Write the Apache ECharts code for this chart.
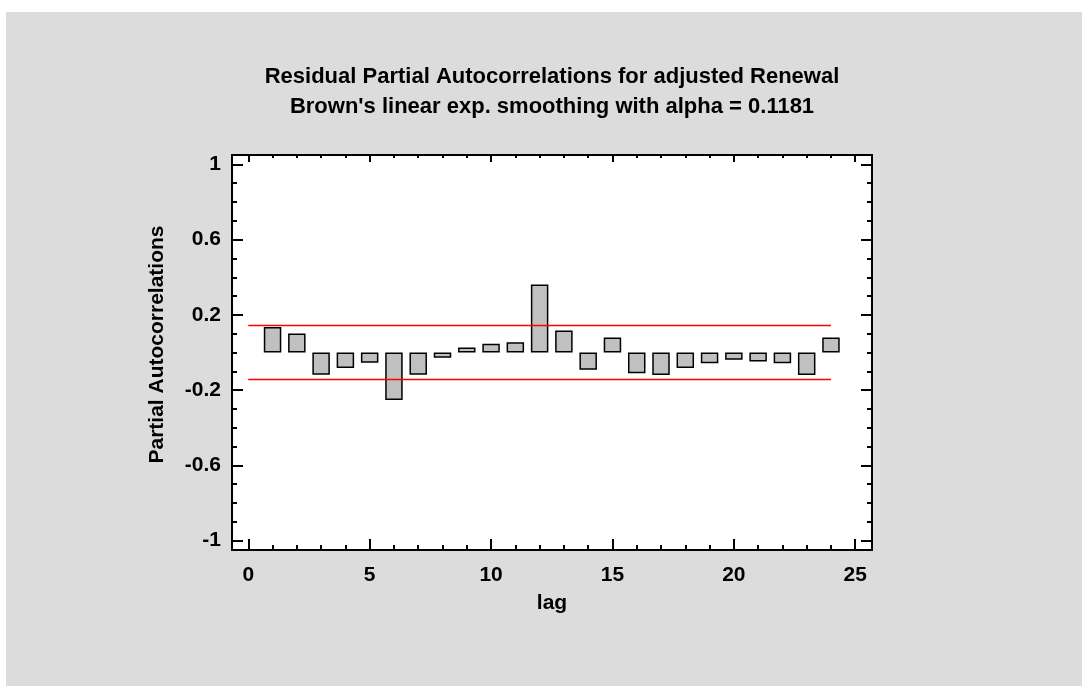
<!DOCTYPE html>
<html>
<head>
<meta charset="utf-8">
<script src="https://cdn.jsdelivr.net/npm/echarts@6/dist/echarts.min.js"></script>
<style>
html,body{margin:0;padding:0;background:#fff;}
#bg{position:absolute;left:6px;top:12px;width:1076px;height:674px;background:#dcdcdc;}
#chart{position:absolute;left:0;top:0;width:1083px;height:686px;}
</style>
</head>
<body>
<div id="bg"></div>
<div id="chart"></div>
<script>
const titleLines = ["Residual Partial Autocorrelations for adjusted Renewal", "Brown's linear exp. smoothing with alpha = 0.1181"];
const xName = "lag";
const yName = "Partial Autocorrelations";
const lags = [1,2,3,4,5,6,7,8,9,10,11,12,13,14,15,16,17,18,19,20,21,22,23,24];
const pacf = [0.135,0.101,-0.118,-0.083,-0.055,-0.253,-0.118,-0.028,0.027,0.046,0.055,0.361,0.117,-0.092,0.080,-0.110,-0.120,-0.083,-0.057,-0.039,-0.048,-0.057,-0.120,0.080];
const upperLimit = 0.144;
const lowerLimit = -0.144;
const limitFrom = 0, limitTo = 24;
const xMajorTicks = [0,5,10,15,20,25];
const xMinorTicks = [0,1,2,3,4,5,6,7,8,9,10,11,12,13,14,15,16,17,18,19,20,21,22,23,24,25];
const yMajorTicks = [-1,-0.6,-0.2,0.2,0.6,1];
const yMinorTicks = [-1,-0.9,-0.8,-0.7,-0.6,-0.5,-0.4,-0.3,-0.2,-0.1,0,0.1,0.2,0.3,0.4,0.5,0.6,0.7,0.8,0.9,1];
const xMin = -0.67, xMax = 25.69, yMin = -1.05, yMax = 1.05;

const font = '"Liberation Sans", Arial, sans-serif';
const chart = echarts.init(document.getElementById('chart'), null, {renderer:'canvas'});

function xAx(pos, major, showLabel) {
  return {
    type:'value', position:pos, min:xMin, max:xMax,
    axisLine:{show:false, onZero:false}, splitLine:{show:false},
    axisTick:{show:true, inside:true, length: major ? (pos==='top'?7:11) : (pos==='top'?3:5),
      lineStyle:{color:'#000', width:2}, customValues: major ? xMajorTicks : xMinorTicks},
    axisLabel:{show:showLabel, customValues:xMajorTicks, margin:15, fontSize:21, fontWeight:'bold', color:'#000', fontFamily:font},
    name: showLabel ? xName : '', nameLocation:'middle', nameGap:43,
    nameTextStyle:{fontSize:21, fontWeight:'bold', color:'#000', fontFamily:font}
  };
}
function yAx(pos, major, showLabel) {
  return {
    type:'value', position:pos, min:yMin, max:yMax,
    axisLine:{show:false, onZero:false}, splitLine:{show:false},
    axisTick:{show:true, inside:true, length: major ? 11 : 5,
      lineStyle:{color:'#000', width:2}, customValues: major ? yMajorTicks : yMinorTicks},
    axisLabel:{show:showLabel, customValues:yMajorTicks, margin:11, fontSize:21, fontWeight:'bold', color:'#000', fontFamily:font,
      padding:[5,0,0,0],
      formatter: v => String(Math.round(v*10)/10)},
    name: showLabel ? yName : '', nameLocation:'middle', nameGap:64,
    nameTextStyle:{fontSize:21, fontWeight:'bold', color:'#000', fontFamily:font, padding:[0,0,0,16]}
  };
}

chart.setOption({
  backgroundColor:'transparent',
  animation:false,
  title:{
    text: titleLines.join('\n'),
    left:547, top:57, textAlign:'center',
    textStyle:{fontSize:22, fontWeight:'bold', color:'#000', fontFamily:font, lineHeight:30}
  },
  grid:{left:232, right:211, top:155, bottom:136, show:true, backgroundColor:'#fff', borderColor:'#000', borderWidth:2},
  xAxis:[xAx('bottom',true,true), xAx('bottom',false,false), xAx('top',true,false), xAx('top',false,false)],
  yAxis:[yAx('left',true,true), yAx('left',false,false), yAx('right',true,false), yAx('right',false,false)],
  series:[
    {type:'bar', xAxisIndex:0, yAxisIndex:0, barWidth:17.5,
      data: lags.map((l,i)=>[l,pacf[i]]),
      itemStyle:{color:'#c0c0c0', borderColor:'#000', borderWidth:1.5}},
    {type:'line', xAxisIndex:0, yAxisIndex:0, showSymbol:false, symbol:'none',
      data:[[limitFrom,upperLimit],[limitTo,upperLimit]], lineStyle:{color:'#ff0000', width:1.5}},
    {type:'line', xAxisIndex:0, yAxisIndex:0, showSymbol:false, symbol:'none',
      data:[[limitFrom,lowerLimit],[limitTo,lowerLimit]], lineStyle:{color:'#ff0000', width:1.5}}
  ]
});
</script>
</body>
</html>
